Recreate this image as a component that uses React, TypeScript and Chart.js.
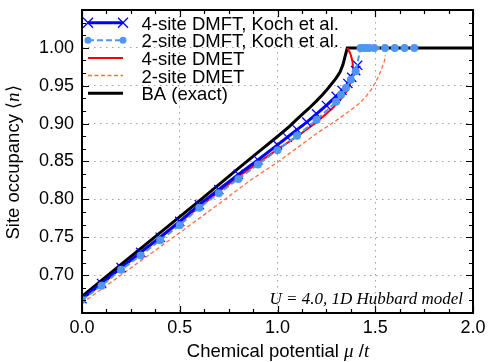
import React, { useEffect, useRef } from "react";
import { Chart, registerables } from "chart.js";

Chart.register(...registerables);

// ---- Data ----
const baMu = [0, 0.2, 0.4, 0.6, 0.8, 0.9, 1.0, 1.06, 1.1, 1.16, 1.2, 1.23, 1.26, 1.3, 1.32, 1.335, 1.345, 1.352, 1.357, 2.0];
const baN = [0.672, 0.714, 0.756, 0.798, 0.841, 0.862, 0.883, 0.896, 0.906, 0.920, 0.930, 0.938, 0.947, 0.960, 0.968, 0.978, 0.988, 0.995, 1.0, 1.0];

const dmft4Mu = [0, 0.1, 0.2, 0.3, 0.4, 0.5, 0.6, 0.7, 0.8, 0.9, 1.0, 1.05, 1.1, 1.15, 1.2, 1.25, 1.3, 1.33, 1.36, 1.38, 1.4, 1.41];
const dmft4N = [0.669, 0.689, 0.710, 0.730, 0.750, 0.771, 0.793, 0.813, 0.833, 0.852, 0.872, 0.882, 0.892, 0.902, 0.913, 0.924, 0.936, 0.944, 0.953, 0.961, 0.970, 0.977];

const dmft2Mu = [0, 0.1, 0.2, 0.3, 0.4, 0.5, 0.6, 0.7, 0.8, 0.9, 1.0, 1.1, 1.2, 1.3, 1.325, 1.35, 1.375, 1.4, 1.425, 1.44, 1.455, 1.47, 1.495, 1.55, 1.6, 1.65, 1.7];
const dmft2N = [0.667, 0.686, 0.707, 0.726, 0.746, 0.766, 0.789, 0.808, 0.827, 0.846, 0.865, 0.884, 0.905, 0.929, 0.938, 0.947, 0.958, 0.969, 1.0, 1.0, 1.0, 1.0, 1.0, 1.0, 1.0, 1.0, 1.0];

const dmet4Mu = [0, 0.2, 0.4, 0.6, 0.8, 1.0, 1.1, 1.2, 1.28, 1.33, 1.36, 1.375, 1.385, 1.387, 1.383, 1.372, 1.357];
const dmet4N = [0.668, 0.709, 0.749, 0.790, 0.830, 0.866, 0.883, 0.902, 0.920, 0.934, 0.945, 0.955, 0.965, 0.972, 0.983, 0.993, 1.0];

const dmet2Mu = [0, 0.5, 0.7, 0.86, 1.0, 1.2, 1.3, 1.37, 1.42, 1.45, 1.48, 1.5, 1.52, 1.535, 1.545, 1.55, 1.552];
const dmet2N = [0.663, 0.756, 0.794, 0.825, 0.849, 0.887, 0.904, 0.917, 0.927, 0.935, 0.945, 0.954, 0.964, 0.974, 0.981, 0.986, 0.99];

const legendLabels = ["4-site DMFT, Koch et al.", "2-site DMFT, Koch et al.", "4-site DMET", "2-site DMET", "BA (exact)"];
const xTitle = "Chemical potential ";
const yTitle = "Site occupancy ";
const annotation = "U = 4.0, 1D Hubbard model";

const X_MIN = 0, X_MAX = 2.0, Y_MIN = 0.65, Y_MAX = 1.05;

const BLUE = "#0000ff";
const LBLUE = "#5096f0";
const RED = "#ff0000";
const CORAL = "#ff7040";
const BLACK = "#000000";
const SANS = '"Liberation Sans", Arial, Helvetica, sans-serif';
const SERIF = '"Liberation Serif", "Times New Roman", serif';

const pts = (xs: number[], ys: number[]) => xs.map((v, i) => ({ x: v, y: ys[i] }));

const decorPlugin = {
  id: "decor",
  afterDatasetsDraw(chart: any) {
    const { ctx, chartArea: a, scales } = chart;
    const x = scales.x, y = scales.y;
    ctx.save();
    ctx.strokeStyle = "#000";
    ctx.lineWidth = 1.2;
    ctx.beginPath();
    for (let i = 0; i <= 16; i++) {
      const px = Math.round(x.getPixelForValue(i * 0.125)) + 0.5;
      const len = i % 4 === 0 ? 7 : 4;
      ctx.moveTo(px, a.bottom); ctx.lineTo(px, a.bottom - len);
      ctx.moveTo(px, a.top); ctx.lineTo(px, a.top + len);
    }
    for (let i = 0; i <= 24; i++) {
      const py = Math.round(y.getPixelForValue(Y_MIN + (i * 0.05) / 3)) + 0.5;
      const len = i % 3 === 0 ? 7 : 4;
      ctx.moveTo(a.left, py); ctx.lineTo(a.left + len, py);
      ctx.moveTo(a.right, py); ctx.lineTo(a.right - len, py);
    }
    ctx.stroke();
    ctx.lineWidth = 2;
    ctx.strokeRect(a.left, a.top, a.right - a.left, a.bottom - a.top);
    ctx.restore();
  },
  afterDraw(chart: any) {
    const { ctx, chartArea: a } = chart;
    ctx.save();
    // Legend
    const rows = [22.7, 40.3, 57.9, 75.5, 93.2];
    const x0 = 88, x1 = 123, tx = 141.5;
    const drawLine = (yy: number, color: string, w: number, dash: number[]) => {
      ctx.beginPath();
      ctx.setLineDash(dash);
      ctx.strokeStyle = color;
      ctx.lineWidth = w;
      ctx.moveTo(x0, yy); ctx.lineTo(x1, yy);
      ctx.stroke();
      ctx.setLineDash([]);
    };
    const cross = (cx: number, cy: number, r: number) => {
      ctx.beginPath();
      ctx.strokeStyle = BLUE;
      ctx.lineWidth = 1.3;
      ctx.moveTo(cx - r, cy - r); ctx.lineTo(cx + r, cy + r);
      ctx.moveTo(cx - r, cy + r); ctx.lineTo(cx + r, cy - r);
      ctx.stroke();
    };
    const dot = (cx: number, cy: number, r: number) => {
      ctx.beginPath();
      ctx.fillStyle = LBLUE;
      ctx.arc(cx, cy, r, 0, Math.PI * 2);
      ctx.fill();
    };
    drawLine(rows[0], BLUE, 3, []);
    cross(x0, rows[0], 5); cross(x1, rows[0], 5);
    drawLine(rows[1], LBLUE, 2, [6, 3]);
    dot(x0, rows[1], 3.5); dot(x1, rows[1], 3.5);
    drawLine(rows[2], RED, 2, []);
    drawLine(rows[3], CORAL, 1.3, [4, 2.5]);
    drawLine(rows[4], BLACK, 3, []);
    ctx.fillStyle = "#000";
    ctx.font = `18.5px ${SANS}`;
    ctx.textAlign = "left";
    ctx.textBaseline = "alphabetic";
    legendLabels.forEach((t, i) => ctx.fillText(t, tx, rows[i] + 7));

    // Annotation
    ctx.font = `italic 17px ${SERIF}`;
    ctx.textAlign = "right";
    ctx.fillText(annotation, a.right - 10, 303.5);

    // X title
    ctx.textAlign = "left";
    const sansF = `18.5px ${SANS}`;
    const itF = `italic 19px ${SERIF}`;
    ctx.font = sansF; const w1 = ctx.measureText(xTitle).width;
    ctx.font = itF; const wMu = ctx.measureText("\u03bc").width;
    ctx.font = sansF; const wSl = ctx.measureText(" /").width;
    ctx.font = itF; const wT = ctx.measureText("t").width;
    const total = w1 + wMu + wSl + wT;
    let cx = 278 - total / 2;
    const by = 356.5;
    ctx.font = sansF; ctx.fillText(xTitle, cx, by); cx += w1;
    ctx.font = itF; ctx.fillText("\u03bc", cx, by); cx += wMu;
    ctx.font = sansF; ctx.fillText(" /", cx, by); cx += wSl;
    ctx.font = itF; ctx.fillText("t", cx, by);

    // Y title (rotated)
    ctx.save();
    ctx.translate(19.3, 162.5);
    ctx.rotate(-Math.PI / 2);
    const bF = `18px ${SERIF}`;
    ctx.font = sansF; const y1 = ctx.measureText(yTitle).width;
    ctx.font = bF; const wl = ctx.measureText("\u27e8").width;
    ctx.font = itF; const wn = ctx.measureText("n").width;
    ctx.font = bF; const wr = ctx.measureText("\u27e9").width;
    let ty = -(y1 + wl + wn + wr) / 2;
    ctx.font = sansF; ctx.fillText(yTitle, ty, 0); ty += y1;
    ctx.font = bF; ctx.fillText("\u27e8", ty, 0); ty += wl;
    ctx.font = itF; ctx.fillText("n", ty, 0); ty += wn;
    ctx.font = bF; ctx.fillText("\u27e9", ty, 0);
    ctx.restore();

    ctx.restore();
  },
};

export default function App() {
  const ref = useRef<HTMLCanvasElement | null>(null);
  useEffect(() => {
    if (!ref.current) return;
    const chart = new Chart(ref.current, {
      type: "scatter",
      data: {
        datasets: [
          {
            label: legendLabels[1],
            data: pts(dmft2Mu, dmft2N),
            showLine: true,
            borderColor: LBLUE,
            backgroundColor: LBLUE,
            borderWidth: 2,
            borderDash: [6, 3],
            pointStyle: "circle",
            pointRadius: 4,
            pointBorderWidth: 0,
            order: 1,
          },
          {
            label: legendLabels[0],
            data: pts(dmft4Mu, dmft4N),
            showLine: true,
            borderColor: BLUE,
            backgroundColor: BLUE,
            borderWidth: 3,
            pointStyle: "crossRot",
            pointRadius: 6.5,
            pointBorderWidth: 1.3,
            order: 2,
          },
          {
            label: legendLabels[2],
            data: pts(dmet4Mu, dmet4N),
            showLine: true,
            borderColor: RED,
            borderWidth: 2,
            pointRadius: 0,
            order: 3,
          },
          {
            label: legendLabels[3],
            data: pts(dmet2Mu, dmet2N),
            showLine: true,
            borderColor: CORAL,
            borderWidth: 1.3,
            borderDash: [4, 2.5],
            pointRadius: 0,
            order: 4,
          },
          {
            label: legendLabels[4],
            data: pts(baMu, baN),
            showLine: true,
            borderColor: BLACK,
            borderWidth: 3,
            pointRadius: 0,
            order: 5,
          },
        ],
      },
      options: {
        responsive: false,
        animation: false,
        devicePixelRatio: 1,
        layout: { padding: { top: 10, right: 15, left: 0, bottom: 0 } },
        plugins: { legend: { display: false }, tooltip: { enabled: false } },
        elements: { line: { tension: 0 } },
        scales: {
          x: {
            type: "linear",
            min: X_MIN,
            max: X_MAX,
            afterFit: (s: any) => { s.height = 49; s.paddingLeft = 0; s.paddingRight = 0; s.paddingTop = 0; s.paddingBottom = 0; },
            ticks: {
              stepSize: 0.5,
              color: "#000",
              font: { family: SANS, size: 18 },
              padding: 4,
              maxRotation: 0,
              callback: (v: any) => Number(v).toFixed(1),
            },
            grid: {
              drawTicks: false,
              color: (c: any) => (c.tick && (c.tick.value <= X_MIN + 1e-6 || c.tick.value >= X_MAX - 1e-6) ? "rgba(0,0,0,0)" : "#a0a0a0"),
              lineWidth: 1,
            },
            border: { display: false, dash: [1.5, 4.5] },
          },
          y: {
            type: "linear",
            min: Y_MIN,
            max: Y_MAX,
            afterFit: (s: any) => { s.width = 82; s.paddingTop = 0; s.paddingBottom = 0; s.paddingLeft = 0; s.paddingRight = 0; },
            ticks: {
              stepSize: 0.05,
              color: "#000",
              font: { family: SANS, size: 18 },
              padding: 8,
              callback: (v: any) => {
                const n = Math.round(Number(v) * 100) / 100;
                if (n < 0.69 || n > 1.01) return "";
                return n.toFixed(2);
              },
            },
            grid: {
              drawTicks: false,
              color: (c: any) => (c.tick && (c.tick.value < 0.69 || c.tick.value > 1.01) ? "rgba(0,0,0,0)" : "#a0a0a0"),
              lineWidth: 1,
            },
            border: { display: false, dash: [1.5, 4.5] },
          },
        },
      },
      plugins: [decorPlugin],
    });
    return () => chart.destroy();
  }, []);
  return (
    <div style={{ position: "absolute", left: 0, top: 0, width: 488, height: 362, background: "#fff" }}>
      <canvas ref={ref} width={488} height={362} style={{ display: "block", width: 488, height: 362 }} />
    </div>
  );
}
